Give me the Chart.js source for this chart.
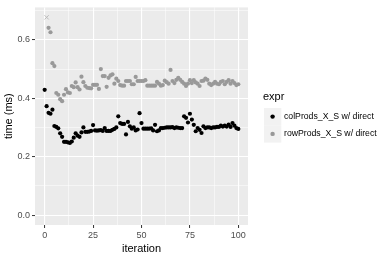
<!DOCTYPE html>
<html>
<head>
<meta charset="utf-8">
<script src="https://cdn.jsdelivr.net/npm/chart.js@4.4.1/dist/chart.umd.min.js"></script>
<style>
  html, body { margin: 0; padding: 0; background: #fff; }
  #wrap { position: relative; width: 390px; height: 260px; }
</style>
</head>
<body>
<div id="wrap"><canvas id="chart" width="390" height="260"></canvas></div>
<script>
// tick positions (major ones get labels, the rest are minor grid lines)
const xMajor = [0, 25, 50, 75, 100];
const xMinor = [12.5, 37.5, 62.5, 87.5];
const yMajor = [0.0, 0.2, 0.4, 0.6];
const yMinor = [0.1, 0.3, 0.5, 0.7];

const seriesNames = ["colProds_X_S w/ direct", "rowProds_X_S w/ direct"];

// time (ms) per iteration, index = iteration
const colTimes = [
  0.429, 0.373, 0.350, 0.347, 0.361, 0.305, 0.302, 0.297, 0.280, 0.268,
  0.251, 0.251, 0.249, 0.247, 0.252, 0.265, 0.280, 0.272, 0.268, 0.283,
  0.300, 0.285, 0.285, 0.286, 0.288, 0.308, 0.290, 0.289, 0.290, 0.291,
  0.288, 0.298, 0.288, 0.288, 0.288, 0.292, 0.295, 0.300, 0.338, 0.315,
  0.312, 0.312, 0.276, 0.319, 0.304, 0.296, 0.300, 0.290, 0.293, 0.349,
  0.315, 0.296, 0.296, 0.296, 0.296, 0.297, 0.290, 0.309, 0.287, 0.290,
  0.298, 0.298, 0.299, 0.300, 0.300, 0.300, 0.301, 0.298, 0.300, 0.299,
  0.298, 0.298, 0.338, 0.333, 0.317, 0.347, 0.327, 0.309, 0.287, 0.298,
  0.292, 0.281, 0.304, 0.298, 0.300, 0.300, 0.298, 0.300, 0.300, 0.302,
  0.302, 0.306, 0.303, 0.306, 0.303, 0.310, 0.302, 0.315, 0.306, 0.298,
  0.295
];

const rowTimes = [
  null,  null,  0.641, 0.626, 0.520, 0.510, 0.418, 0.412, 0.397, 0.390,
  0.412, 0.431, 0.420, 0.418, 0.442, 0.438, 0.454, 0.438, 0.430, 0.474,
  0.455, 0.442, 0.436, 0.435, 0.434, 0.446, 0.446, 0.446, 0.432, 0.500,
  0.476, 0.476, 0.439, 0.470, 0.478, 0.482, 0.450, 0.467, 0.459, 0.445,
  0.443, 0.443, 0.459, 0.459, 0.459, 0.448, 0.448, 0.473, 0.459, 0.459,
  0.459, 0.459, 0.462, 0.443, 0.443, 0.443, 0.443, 0.443, 0.456, 0.450,
  0.443, 0.445, 0.460, 0.455, 0.450, 0.497, 0.459, 0.452, 0.463, 0.470,
  0.463, 0.456, 0.450, 0.442, 0.450, 0.462, 0.452, 0.462, 0.454, 0.450,
  0.442, 0.459, 0.460, 0.467, 0.463, 0.450, 0.445, 0.450, 0.456, 0.450,
  0.448, 0.456, 0.459, 0.448, 0.456, 0.462, 0.450, 0.459, 0.452, 0.445,
  0.448
];

// the single "x" mark near the top left
const outlierIter = [1];
const outlierTime = [0.677];

const FONT = "'Liberation Sans', Arial, sans-serif";
const seriesColors = ["#000000", "#999999"];

const toPoints = (arr) =>
  arr.map((y, i) => ({ x: i, y: y })).filter((p) => p.y !== null);

const isMajor = (v, majors) => majors.some((m) => Math.abs(m - v) < 1e-9);

const panelBg = {
  id: "panelBg",
  beforeDraw(chart) {
    const { ctx, chartArea: a } = chart;
    ctx.save();
    ctx.fillStyle = "#ebebeb";
    ctx.fillRect(a.left, a.top, a.right - a.left, a.bottom - a.top);
    ctx.restore();
  },
};

const ggLegend = {
  id: "ggLegend",
  afterDraw(chart) {
    const ctx = chart.ctx;
    ctx.save();
    ctx.textBaseline = "middle";
    ctx.fillStyle = "#000";
    ctx.font = `11px ${FONT}`;
    ctx.fillText("expr", 263, 97);
    seriesNames.forEach((name, k) => {
      const top = 108 + k * 17.3;
      ctx.fillStyle = "#f2f2f2";
      ctx.fillRect(264, top, 17.3, 17.3);
      ctx.fillStyle = seriesColors[k];
      ctx.beginPath();
      ctx.arc(272.6, top + 8.6, 2.2, 0, Math.PI * 2);
      ctx.fill();
      ctx.fillStyle = "#000";
      ctx.font = `8.7px ${FONT}`;
      ctx.fillText(name, 284, top + 8.6);
    });
    ctx.restore();
  },
};

const ctx = document.getElementById("chart").getContext("2d");

new Chart(ctx, {
  type: "scatter",
  data: {
    datasets: [
      {
        label: seriesNames[0],
        data: toPoints(colTimes),
        backgroundColor: seriesColors[0],
        borderWidth: 0,
        pointRadius: 2.1,
      },
      {
        label: seriesNames[1],
        data: toPoints(rowTimes),
        backgroundColor: seriesColors[1],
        borderWidth: 0,
        pointRadius: 2.1,
      },
      {
        label: "outlier",
        data: outlierIter.map((x, i) => ({ x: x, y: outlierTime[i] })),
        pointStyle: "crossRot",
        borderColor: "#bbbbbb",
        borderWidth: 1,
        pointRadius: 3,
      },
    ],
  },
  options: {
    responsive: false,
    animation: false,
    layout: { padding: { top: 5, right: 142, left: 0, bottom: 0 } },
    plugins: {
      legend: { display: false },
      tooltip: { enabled: false },
    },
    scales: {
      x: {
        type: "linear",
        min: -5,
        max: 105,
        afterBuildTicks: (scale) => {
          scale.ticks = [...xMajor, ...xMinor].sort((a, b) => a - b).map((v) => ({ value: v }));
        },
        afterFit: (scale) => {
          scale.height = 35;
        },
        border: { display: false },
        grid: {
          color: "#ffffff",
          lineWidth: (c) => (isMajor(c.tick.value, xMajor) ? 1.1 : 0.5),
          tickColor: (c) => (isMajor(c.tick.value, xMajor) ? "#333333" : "rgba(0,0,0,0)"),
          tickWidth: 1,
          tickLength: 3,
        },
        ticks: {
          autoSkip: false,
          maxRotation: 0,
          padding: 2,
          color: "#4d4d4d",
          font: { family: FONT, size: 9 },
          callback: (v) => (isMajor(v, xMajor) ? String(v) : ""),
        },
        title: {
          display: true,
          text: "iteration",
          color: "#000",
          font: { family: FONT, size: 11 },
          padding: { top: 0, bottom: 4 },
        },
      },
      y: {
        type: "linear",
        min: -0.0339,
        max: 0.711,
        afterBuildTicks: (scale) => {
          scale.ticks = [...yMajor, ...yMinor].sort((a, b) => a - b).map((v) => ({ value: v }));
        },
        afterFit: (scale) => {
          scale.width = 35;
        },
        border: { display: false },
        grid: {
          color: "#ffffff",
          lineWidth: (c) => (isMajor(c.tick.value, yMajor) ? 1.1 : 0.5),
          tickColor: (c) => (isMajor(c.tick.value, yMajor) ? "#333333" : "rgba(0,0,0,0)"),
          tickWidth: 1,
          tickLength: 3,
        },
        ticks: {
          autoSkip: false,
          padding: 2,
          color: "#4d4d4d",
          font: { family: FONT, size: 9 },
          callback: (v) => (isMajor(v, yMajor) ? v.toFixed(1) : ""),
        },
        title: {
          display: true,
          text: "time (ms)",
          color: "#000",
          font: { family: FONT, size: 11 },
          padding: { top: 2, bottom: 3 },
        },
      },
    },
  },
  plugins: [panelBg, ggLegend],
});
</script>
</body>
</html>
